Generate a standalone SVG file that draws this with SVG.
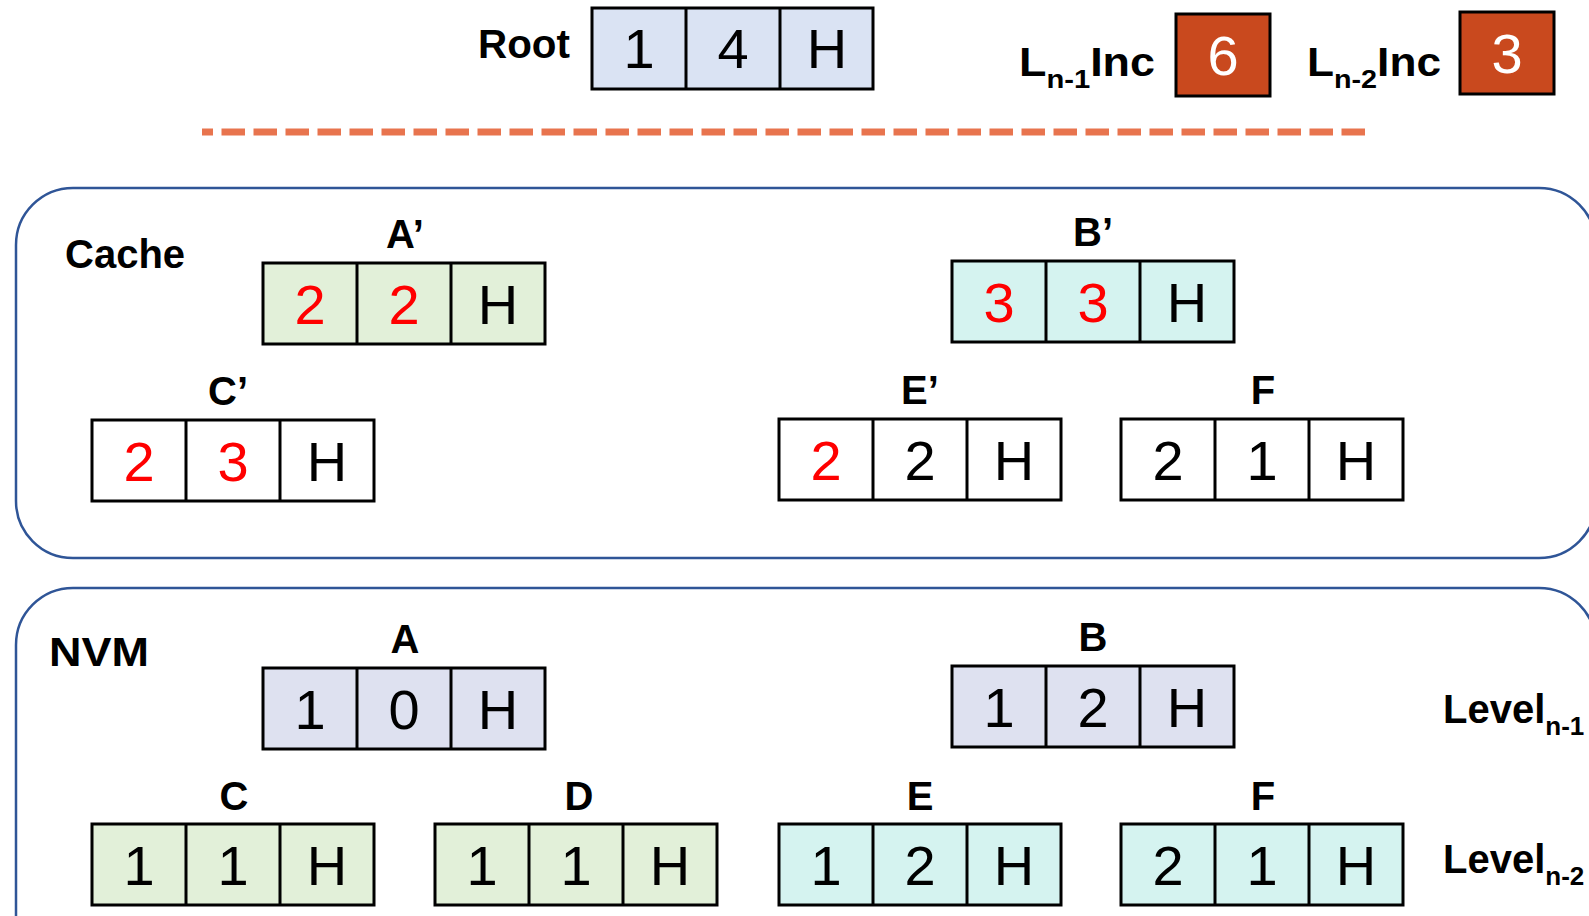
<svg xmlns="http://www.w3.org/2000/svg" width="1589" height="916" viewBox="0 0 1589 916">
  <style>
    .panel { fill: none; stroke: #2F5597; stroke-width: 2.5; }
    .cell { stroke: #000; stroke-width: 3; }
    .div { stroke: #000; stroke-width: 3; }
    .num { font-family: "Liberation Sans", Arial, sans-serif; font-size: 56px; text-anchor: middle; fill: #000; }
    .red { fill: #FF0000; }
    .lbl { font-family: "Liberation Sans", Arial, sans-serif; font-weight: bold; font-size: 40px; fill: #000; }
    .mid { text-anchor: middle; }
    .sub { font-size: 26px; }
    .blue { fill: #DAE3F3; }
    .lav { fill: #DEE1F0; }
    .green { fill: #E2F0D9; }
    .cyan { fill: #D5F3F0; }
    .white { fill: #FFFFFF; }
    .inc { fill: #C9491E; stroke: #000; stroke-width: 3; }
    .incnum { fill: #FFFFFF; }
  </style>
  <defs>
    <!-- three-field record outline: two dividers splitting the cell into thirds -->
    <g id="dividers">
      <line class="div" x1="94" y1="0" x2="94" y2="81"/>
      <line class="div" x1="188" y1="0" x2="188" y2="81"/>
    </g>
  </defs>

  <rect width="1589" height="916" fill="#FFFFFF"/>

  <!-- header: root record and level increment counters -->
  <g id="root">
    <text class="lbl" x="478" y="58" textLength="92" lengthAdjust="spacingAndGlyphs">Root</text>
    <g transform="translate(592,8)">
      <rect class="cell blue" width="281" height="81"/>
      <use href="#dividers"/>
      <text class="num" x="47" y="60">1</text>
      <text class="num" x="141" y="60">4</text>
      <text class="num" x="235" y="60">H</text>
    </g>
  </g>

  <g id="inc-n1">
    <text class="lbl" x="1019" y="76" textLength="136" lengthAdjust="spacingAndGlyphs">L<tspan class="sub" dy="12">n-1</tspan><tspan dy="-12">Inc</tspan></text>
    <rect class="inc" x="1176" y="14" width="94" height="82"/>
    <text class="num incnum" x="1223" y="75">6</text>
  </g>

  <g id="inc-n2">
    <text class="lbl" x="1307" y="76" textLength="134" lengthAdjust="spacingAndGlyphs">L<tspan class="sub" dy="12">n-2</tspan><tspan dy="-12">Inc</tspan></text>
    <rect class="inc" x="1460" y="12" width="94" height="82"/>
    <text class="num incnum" x="1507" y="73">3</text>
  </g>

  <!-- separator between the root and the memory tiers -->
  <g id="connectors">
    <line x1="202" y1="132" x2="1366" y2="132" stroke="#E8744E" stroke-width="7" stroke-dasharray="23.5 8.5" stroke-dashoffset="12.5"/>
  </g>

  <!-- cache tier -->
  <g id="cache-panel">
    <rect class="panel" x="16" y="188" width="1580" height="370" rx="57" ry="57"/>
    <text class="lbl" x="65" y="268">Cache</text>
  </g>

  <g id="node-a-prime">
    <text class="lbl mid" x="405" y="248">A’</text>
    <g transform="translate(263,263)">
      <rect class="cell green" width="282" height="81"/>
      <use href="#dividers"/>
      <text class="num red" x="47" y="61">2</text>
      <text class="num red" x="141" y="61">2</text>
      <text class="num" x="235" y="61">H</text>
    </g>
  </g>

  <g id="node-b-prime">
    <text class="lbl mid" x="1093" y="246">B’</text>
    <g transform="translate(952,261)">
      <rect class="cell cyan" width="282" height="81"/>
      <use href="#dividers"/>
      <text class="num red" x="47" y="61">3</text>
      <text class="num red" x="141" y="61">3</text>
      <text class="num" x="235" y="61">H</text>
    </g>
  </g>

  <g id="node-c-prime">
    <text class="lbl mid" x="228" y="405">C’</text>
    <g transform="translate(92,420)">
      <rect class="cell white" width="282" height="81"/>
      <use href="#dividers"/>
      <text class="num red" x="47" y="61">2</text>
      <text class="num red" x="141" y="61">3</text>
      <text class="num" x="235" y="61">H</text>
    </g>
  </g>

  <g id="node-e-prime">
    <text class="lbl mid" x="920" y="404">E’</text>
    <g transform="translate(779,419)">
      <rect class="cell white" width="282" height="81"/>
      <use href="#dividers"/>
      <text class="num red" x="47" y="61">2</text>
      <text class="num" x="141" y="61">2</text>
      <text class="num" x="235" y="61">H</text>
    </g>
  </g>

  <g id="node-f-cache">
    <text class="lbl mid" x="1263" y="404">F</text>
    <g transform="translate(1121,419)">
      <rect class="cell white" width="282" height="81"/>
      <use href="#dividers"/>
      <text class="num" x="47" y="61">2</text>
      <text class="num" x="141" y="61">1</text>
      <text class="num" x="235" y="61">H</text>
    </g>
  </g>

  <!-- NVM tier -->
  <g id="nvm-panel">
    <rect class="panel" x="16" y="588" width="1580" height="400" rx="57" ry="57"/>
    <text class="lbl" x="49" y="666" textLength="100" lengthAdjust="spacingAndGlyphs">NVM</text>
    <text class="lbl" x="1443" y="723">Level<tspan class="sub" dy="12">n-1</tspan></text>
    <text class="lbl" x="1443" y="873">Level<tspan class="sub" dy="12">n-2</tspan></text>
  </g>

  <g id="node-a">
    <text class="lbl mid" x="405" y="653">A</text>
    <g transform="translate(263,668)">
      <rect class="cell lav" width="282" height="81"/>
      <use href="#dividers"/>
      <text class="num" x="47" y="61">1</text>
      <text class="num" x="141" y="61">0</text>
      <text class="num" x="235" y="61">H</text>
    </g>
  </g>

  <g id="node-b">
    <text class="lbl mid" x="1093" y="651">B</text>
    <g transform="translate(952,666)">
      <rect class="cell lav" width="282" height="81"/>
      <use href="#dividers"/>
      <text class="num" x="47" y="61">1</text>
      <text class="num" x="141" y="61">2</text>
      <text class="num" x="235" y="61">H</text>
    </g>
  </g>

  <g id="node-c">
    <text class="lbl mid" x="234" y="810">C</text>
    <g transform="translate(92,824)">
      <rect class="cell green" width="282" height="81"/>
      <use href="#dividers"/>
      <text class="num" x="47" y="61">1</text>
      <text class="num" x="141" y="61">1</text>
      <text class="num" x="235" y="61">H</text>
    </g>
  </g>

  <g id="node-d">
    <text class="lbl mid" x="579" y="810">D</text>
    <g transform="translate(435,824)">
      <rect class="cell green" width="282" height="81"/>
      <use href="#dividers"/>
      <text class="num" x="47" y="61">1</text>
      <text class="num" x="141" y="61">1</text>
      <text class="num" x="235" y="61">H</text>
    </g>
  </g>

  <g id="node-e">
    <text class="lbl mid" x="920" y="810">E</text>
    <g transform="translate(779,824)">
      <rect class="cell cyan" width="282" height="81"/>
      <use href="#dividers"/>
      <text class="num" x="47" y="61">1</text>
      <text class="num" x="141" y="61">2</text>
      <text class="num" x="235" y="61">H</text>
    </g>
  </g>

  <g id="node-f">
    <text class="lbl mid" x="1263" y="810">F</text>
    <g transform="translate(1121,824)">
      <rect class="cell cyan" width="282" height="81"/>
      <use href="#dividers"/>
      <text class="num" x="47" y="61">2</text>
      <text class="num" x="141" y="61">1</text>
      <text class="num" x="235" y="61">H</text>
    </g>
  </g>
</svg>
